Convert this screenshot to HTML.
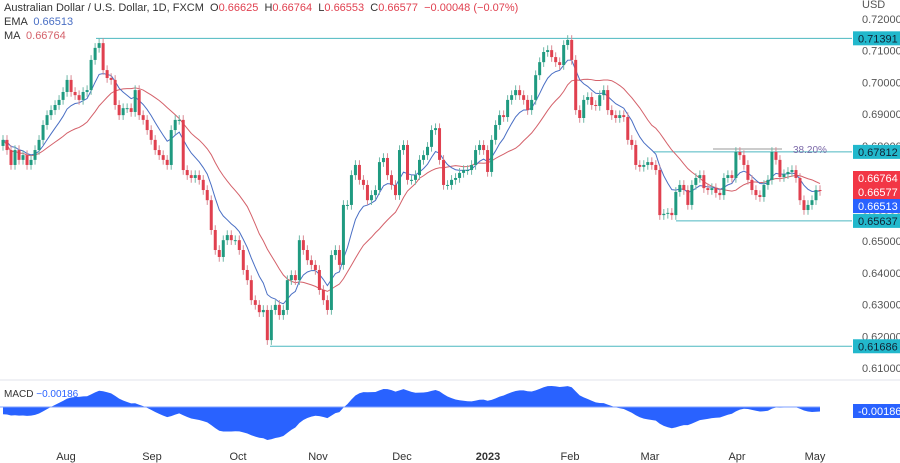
<!DOCTYPE html>
<html><head><meta charset="utf-8">
<style>
body{margin:0;background:#fff;}
svg{display:block;font-family:"Liberation Sans",sans-serif;}
</style></head>
<body>
<svg id="chart" width="900" height="463" viewBox="0 0 900 463"></svg>
<script>
const closes1=[.6819,.6787,.6740,.6787,.6756,.6771,.6740,.6756,.6787,.6819,.6866,.6897,.6913,.6929,.6945,.6970,.7008,.6970,.6960,.6945,.6970,.6976,.7071,.7109,.7124,.7039,.7014,.7008,.6929,.6897,.6919,.6919,.6907,.6976,.6897,.6882,.6850,.6819,.6787,.6771,.6756,.6740,.6850,.6882,.6882,.6724,.6708,.6699,.6708,.6693,.6661,.6629,.6535,.6472,.6450,.6503,.6519,.6503,.6503,.6472,.6409,.6377,.6314,.6299,.6276,.6283,.6188,.6283,.6299,.6267,.6283,.6377,.6393,.6377,.6503,.6472,.6440,.6425,.6409];
const closes2=[.6346,.6314,.6283,.6456,.6472,.6425,.6614,.6614,.6708,.6740,.6693,.6677,.6629,.6645,.6661,.6749,.6762,.6708,.6677,.6645,.6787,.6803,.6693,.6693,.6708,.6756,.6771,.6797,.6850,.6856,.6756,.6677,.6677,.6693,.6699,.6715,.6724,.6724,.6740,.6787,.6803,.6787,.6718,.6819,.6866,.6897,.6891,.6945,.6960,.6976,.6960,.6945,.6913,.6945,.7023,.7064,.7096,.7102,.7080,.7064,.7055,.7118,.7134,.7071,.6913];
const closes3=[.6888,.6945,.6954,.6929,.6926,.6960,.6976,.6913,.6897,.6888,.6897,.6891,.6819,.6803,.6740,.6734,.6740,.6749,.6740,.6724,.6582,.6586,.6589,.6582,.6655,.6677,.6661,.6614,.6677,.6699,.6708,.6667,.6661,.6667,.6652,.6645,.6699,.6708,.6699,.6781,.6771,.6740,.6693,.6661,.6645,.6639,.6677,.6693,.6781,.6756,.6702,.6711,.6718,.6724,.6699,.6629,.6598,.6614,.6629,.6661,.6658];
const firstOpen=0.6800;
const macdStart=-0.003;
const priceTicks=[0.72,0.71,0.70,0.69,0.68,0.67,0.66,0.65,0.64,0.63,0.62,0.61];
const monthLabels=["Aug","Sep","Oct","Nov","Dec","2023","Feb","Mar","Apr","May"];
const monthX=[66,152,238,318,402,488,570,650,737,815];
const levels=[0.71391,0.67812,0.65637,0.61686];
const levelStart=[96,653,676,270];

const NS="http://www.w3.org/2000/svg";
const svg=document.getElementById('chart');
function el(t,a,p){const e=document.createElementNS(NS,t);for(const k in a)e.setAttribute(k,a[k]);(p||svg).appendChild(e);return e;}
const closes=closes1.concat(closes2,closes3);
const n=closes.length;
const y=p=>19+(0.72-p)*3173;
const x=i=>3+i*(817/(n-1));
const PR=852;

priceTicks.forEach(t=>{const e=el('text',{x:862,y:y(t)+4,'font-size':11,fill:'#555'});e.textContent=t.toFixed(5);

});
const u=el('text',{x:862,y:8,'font-size':11,fill:'#555'});u.textContent='USD';


levels.forEach((lv,i)=>{const l=el('line',{x1:levelStart[i],x2:PR,y1:y(lv),y2:y(lv),stroke:'#4cb8c0','stroke-width':1});

});
const fl=el('line',{x1:713,x2:782,y1:149,y2:149,stroke:'#999','stroke-width':1});

const ft=el('text',{x:793,y:153,'font-size':10,fill:'#7b68a8'});ft.textContent='38.20%';


function ema(arr,p){const k=2/(p+1);let r=[],v=arr[0];arr.forEach(c=>{v=c*k+v*(1-k);r.push(v);});return r;}
function sma(arr,p){return arr.map((c,i)=>{const s=arr.slice(Math.max(0,i-p+1),i+1);return s.reduce((a,b)=>a+b,0)/s.length;});}
const e9=ema(closes,9), m20=sma(closes,20);
const ma=el('polyline',{points:m20.map((v,i)=>x(i)+','+y(v)).join(' '),fill:'none',stroke:'#d4616a','stroke-width':1});

const em=el('polyline',{points:e9.map((v,i)=>x(i)+','+y(v)).join(' '),fill:'none',stroke:'#4a6fc4','stroke-width':1});


closes.forEach((c,i)=>{const o=i?closes[i-1]:firstOpen;const up=c>=o;const col=up?'#1f9a80':'#e0404f';
const hi=Math.max(o,c)+0.0015, lo=Math.min(o,c)-0.0015;
const w=el('line',{x1:x(i),x2:x(i),y1:y(hi),y2:y(lo),stroke:up?'#6fb8a8':'#d98a94','stroke-width':1});

const top=y(Math.max(o,c)),h=Math.max(1,Math.abs(y(o)-y(c)));
const b=el('rect',{x:x(i)-1.5,y:top,width:3,height:h,fill:col});
});

el('line',{x1:0,x2:900,y1:380,y2:380,stroke:'#e0e3eb'});
const e12=ema(closes,12),e26=ema(closes,26);
const macd=closes.map((c,i)=>e12[i]-e26[i]+macdStart*Math.max(0,1-i/20));
const my=v=>407-v*2400;
let d='M'+x(0)+',407 '+macd.map((v,i)=>'L'+x(i)+','+my(v)).join(' ')+' L'+x(n-1)+',407 Z';
const area=el('path',{d:d,fill:'#2962ff'});

el('line',{x1:0,x2:x(n-1),y1:407,y2:407,stroke:'#7fa0ff','stroke-width':1});
const mt=el('text',{x:4,y:397,'font-size':10,fill:'#333'});mt.innerHTML='MACD <tspan fill="#2962ff">−0.00186</tspan>';


monthLabels.forEach((m,i)=>{const t=el('text',{x:monthX[i],y:460,'font-size':11,fill:'#333','text-anchor':'middle','font-weight':m==='2023'?'bold':'normal'});t.textContent=m;
});

function badge(txt,bg,fg,yy){const r=el('rect',{x:853,y:yy-7,width:47,height:14,fill:bg});

const t=el('text',{x:858,y:yy+4,'font-size':11,fill:fg});t.textContent=txt;
}
badge('0.71391','#22b8cc','#123',y(0.71391));
badge('0.67812','#22b8cc','#123',y(0.67812));
badge('0.66764','#f23645','#fff',178);
badge('0.66577','#f23645','#fff',192);
badge('0.66513','#2962ff','#fff',206);
badge('0.65637','#22b8cc','#123',y(0.65637));
badge('0.61686','#22b8cc','#123',y(0.61686));
badge('-0.00186','#2962ff','#fff',411);

const h1=el('text',{x:4,y:11,'font-size':11,fill:'#333'});
h1.innerHTML='Australian Dollar / U.S. Dollar, 1D, FXCM &#160;O<tspan fill="#e0404f">0.66625</tspan> &#160;H<tspan fill="#e0404f">0.66764</tspan> &#160;L<tspan fill="#e0404f">0.66553</tspan> &#160;C<tspan fill="#e0404f">0.66577</tspan> &#160;<tspan fill="#e0404f">−0.00048 (−0.07%)</tspan>';

const h2=el('text',{x:4,y:25,'font-size':11,fill:'#333'});h2.innerHTML='EMA &#160;<tspan fill="#4a6fc4">0.66513</tspan>';

const h3=el('text',{x:4,y:39,'font-size':11,fill:'#333'});h3.innerHTML='MA &#160;<tspan fill="#d4616a">0.66764</tspan>';

</script>
</body></html>
